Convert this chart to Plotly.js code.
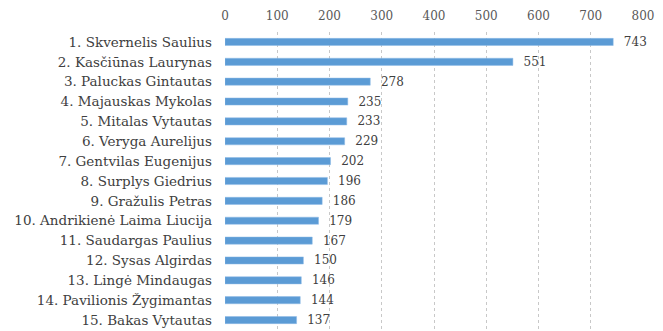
<!DOCTYPE html>
<html>
<head>
<meta charset="utf-8">
<script src="https://cdn.plot.ly/plotly-3.0.1.min.js"></script>
<style>html,body{margin:0;padding:0;background:#fff;}#chart{width:663px;height:331px;}</style>
</head>
<body>
<div id="chart"></div>
<script>
const names = [
  "1. Skvernelis Saulius",
  "2. Kasčiūnas Laurynas",
  "3. Paluckas Gintautas",
  "4. Majauskas Mykolas",
  "5. Mitalas Vytautas",
  "6. Veryga Aurelijus",
  "7. Gentvilas Eugenijus",
  "8. Surplys Giedrius",
  "9. Gražulis Petras",
  "10. Andrikienė Laima Liucija",
  "11. Saudargas Paulius",
  "12. Sysas Algirdas",
  "13. Lingė Mindaugas",
  "14. Pavilionis Žygimantas",
  "15. Bakas Vytautas"
];
const values = [743, 551, 278, 235, 233, 229, 202, 196, 186, 179, 167, 150, 146, 144, 137];
const tickVals = [0, 100, 200, 300, 400, 500, 600, 700, 800];

const FONT = 'DejaVu Serif';

const trace = {
  type: 'bar',
  orientation: 'h',
  y: names,
  x: values,
  texttemplate: '  %{x}',
  textposition: 'outside',
  constraintext: 'none',
  cliponaxis: false,
  textfont: {family: FONT, size: 12, color: '#404040'},
  marker: {color: '#5b9bd5', line: {color: '#8fbbe6', width: 0.5}},
  width: 0.36,
  hoverinfo: 'none'
};

const layout = {
  width: 663, height: 331,
  margin: {l: 225, r: 20, t: 32, b: 1},
  paper_bgcolor: '#fff', plot_bgcolor: '#fff',
  showlegend: false,
  font: {family: FONT},
  xaxis: {
    side: 'top', range: [0, 800], tickvals: tickVals,
    showgrid: true, gridcolor: '#c8c8c8', griddash: 'dot', gridwidth: 1,
    zeroline: false, showline: false, ticks: '',
    tickfont: {family: FONT, size: 12, color: '#595959'},
    ticklabelstandoff: 9,
    fixedrange: true
  },
  yaxis: {
    autorange: 'reversed', showgrid: false, zeroline: false, showline: false, ticks: '',
    ticklabelstandoff: 12,
    tickfont: {family: FONT, size: 13.5, color: '#404040'},
    fixedrange: true
  }
};

Plotly.newPlot('chart', [trace], layout, {displayModeBar: false, staticPlot: true});
</script>
</body>
</html>
